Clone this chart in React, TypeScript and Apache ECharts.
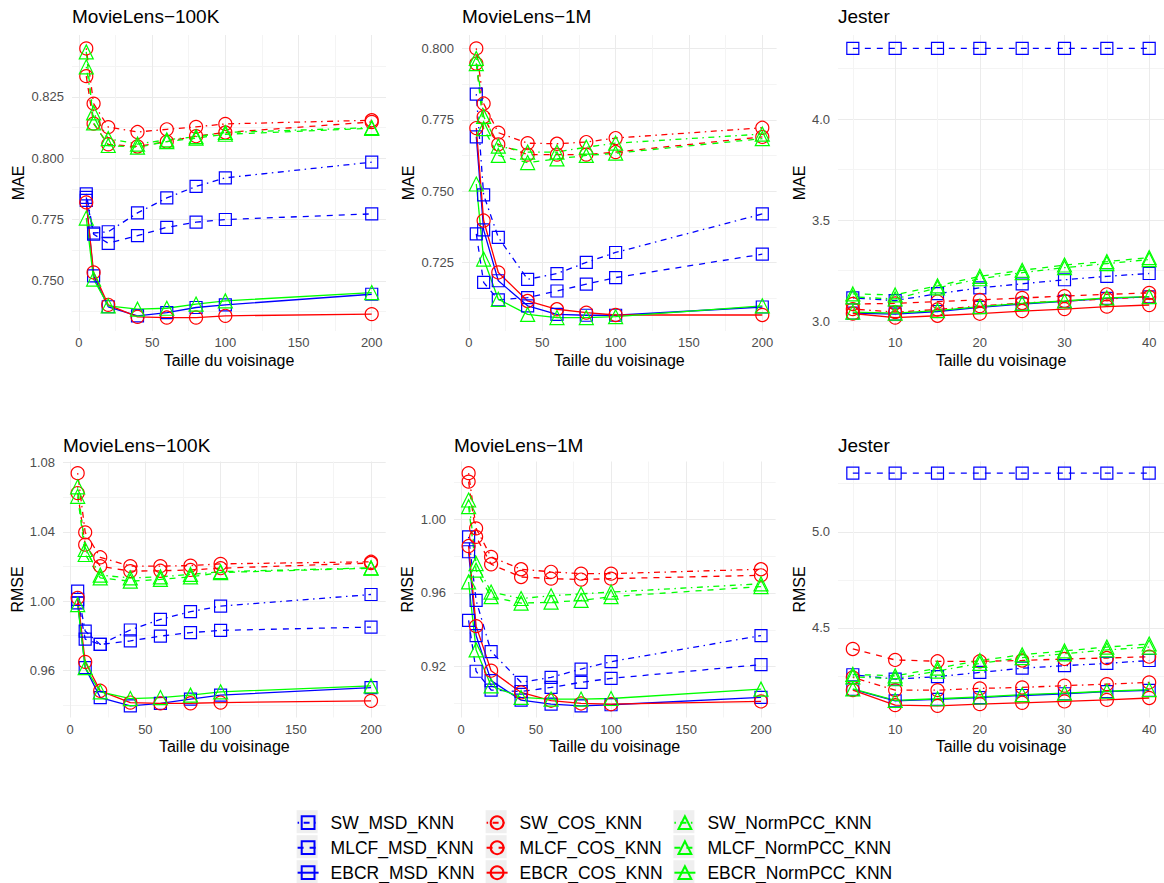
import React, { useEffect, useRef } from 'react';
import * as echarts from 'echarts';

// Methods, in legend order (column by column)
const METHODS = [
  'SW_MSD_KNN', 'MLCF_MSD_KNN', 'EBCR_MSD_KNN',
  'SW_COS_KNN', 'MLCF_COS_KNN', 'EBCR_COS_KNN',
  'SW_NormPCC_KNN', 'MLCF_NormPCC_KNN', 'EBCR_NormPCC_KNN',
];

// Neighbourhood sizes
const X_MOVIELENS = [5, 10, 20, 40, 60, 80, 100, 200];
const X_JESTER = [5, 10, 15, 20, 25, 30, 35, 40];

// Each row follows METHODS
const MAE_ML100K = [
  [0.7855, 0.7695, 0.7700, 0.7777, 0.7838, 0.7885, 0.7920, 0.7984],
  [0.7840, 0.7690, 0.7653, 0.7684, 0.7718, 0.7739, 0.7750, 0.7773],
  [0.7828, 0.7520, 0.7394, 0.7357, 0.7370, 0.7391, 0.7402, 0.7445],
  [0.8448, 0.8223, 0.8127, 0.8107, 0.8118, 0.8128, 0.8140, 0.8155],
  [0.8335, 0.8141, 0.8057, 0.8048, 0.8068, 0.8090, 0.8105, 0.8148],
  [0.7820, 0.7534, 0.7402, 0.7353, 0.7350, 0.7350, 0.7357, 0.7364],
  [0.8373, 0.8185, 0.8080, 0.8058, 0.8075, 0.8088, 0.8105, 0.8125],
  [0.8434, 0.8144, 0.8052, 0.8045, 0.8068, 0.8082, 0.8098, 0.8122],
  [0.7756, 0.7507, 0.7398, 0.7384, 0.7388, 0.7405, 0.7418, 0.7452],
];

const MAE_ML1M = [
  [0.7840, 0.7487, 0.7338, 0.7191, 0.7211, 0.7250, 0.7285, 0.7420],
  [0.7350, 0.7180, 0.7119, 0.7127, 0.7150, 0.7174, 0.7197, 0.7279],
  [0.7690, 0.7364, 0.7186, 0.7098, 0.7068, 0.7065, 0.7065, 0.7094],
  [0.8000, 0.7807, 0.7705, 0.7668, 0.7666, 0.7672, 0.7686, 0.7722],
  [0.7947, 0.7760, 0.7664, 0.7628, 0.7628, 0.7628, 0.7637, 0.7690],
  [0.7721, 0.7397, 0.7215, 0.7115, 0.7086, 0.7074, 0.7066, 0.7066],
  [0.7965, 0.7762, 0.7658, 0.7637, 0.7637, 0.7654, 0.7668, 0.7700],
  [0.7947, 0.7719, 0.7625, 0.7600, 0.7613, 0.7625, 0.7633, 0.7684],
  [0.7525, 0.7262, 0.7121, 0.7068, 0.7057, 0.7057, 0.7060, 0.7098],
];

const MAE_JESTER = [
  [3.115, 3.102, 3.136, 3.165, 3.185, 3.205, 3.222, 3.236],
  [4.350, 4.350, 4.350, 4.350, 4.350, 4.350, 4.350, 4.350],
  [3.040, 3.035, 3.048, 3.068, 3.085, 3.098, 3.113, 3.120],
  [3.060, 3.045, 3.058, 3.075, 3.090, 3.100, 3.110, 3.120],
  [3.085, 3.088, 3.097, 3.105, 3.115, 3.124, 3.133, 3.140],
  [3.038, 3.018, 3.027, 3.037, 3.050, 3.060, 3.072, 3.080],
  [3.120, 3.110, 3.165, 3.210, 3.240, 3.265, 3.285, 3.305],
  [3.135, 3.130, 3.175, 3.222, 3.252, 3.278, 3.295, 3.315],
  [3.045, 3.040, 3.052, 3.072, 3.088, 3.100, 3.115, 3.122],
];

const RMSE_ML100K = [
  [1.0058, 0.9827, 0.9750, 0.9833, 0.9894, 0.9939, 0.9971, 1.0038],
  [1.0010, 0.9780, 0.9750, 0.9770, 0.9798, 0.9818, 0.9831, 0.9850],
  [0.9990, 0.9616, 0.9443, 0.9395, 0.9409, 0.9434, 0.9457, 0.9500],
  [1.0739, 1.0397, 1.0253, 1.0202, 1.0202, 1.0205, 1.0215, 1.0227],
  [1.0624, 1.0326, 1.0202, 1.0173, 1.0175, 1.0180, 1.0190, 1.0220],
  [1.0019, 0.9649, 0.9482, 0.9414, 0.9409, 0.9410, 0.9414, 0.9424],
  [1.0660, 1.0298, 1.0150, 1.0134, 1.0140, 1.0154, 1.0170, 1.0192],
  [1.0605, 1.0269, 1.0134, 1.0115, 1.0125, 1.0140, 1.0165, 1.0190],
  [0.9980, 0.9616, 0.9476, 0.9437, 0.9443, 0.9457, 0.9476, 0.9510],
];

const RMSE_ML1M = [
  [0.9905, 0.9560, 0.9282, 0.9115, 0.9142, 0.9187, 0.9227, 0.9369],
  [0.9451, 0.9175, 0.9073, 0.9065, 0.9087, 0.9115, 0.9136, 0.9211],
  [0.9824, 0.9369, 0.9124, 0.9018, 0.8996, 0.8987, 0.8993, 0.9033],
  [1.0251, 0.9951, 0.9796, 0.9729, 0.9715, 0.9705, 0.9705, 0.9729],
  [1.0205, 0.9905, 0.9756, 0.9687, 0.9678, 0.9673, 0.9678, 0.9696],
  [0.9855, 0.9420, 0.9178, 0.9060, 0.9015, 0.9000, 0.8996, 0.9011],
  [1.0105, 0.9760, 0.9605, 0.9570, 0.9585, 0.9595, 0.9605, 0.9650],
  [1.0069, 0.9724, 0.9580, 0.9545, 0.9550, 0.9560, 0.9580, 0.9635],
  [0.9660, 0.9291, 0.9096, 0.9033, 0.9024, 0.9024, 0.9027, 0.9078],
];

const RMSE_JESTER = [
  [4.256, 4.233, 4.246, 4.268, 4.290, 4.303, 4.315, 4.330],
  [5.305, 5.305, 5.305, 5.305, 5.305, 5.305, 5.305, 5.305],
  [4.180, 4.120, 4.128, 4.137, 4.148, 4.157, 4.168, 4.175],
  [4.242, 4.176, 4.176, 4.185, 4.190, 4.199, 4.207, 4.216],
  [4.390, 4.333, 4.326, 4.326, 4.330, 4.338, 4.343, 4.350],
  [4.176, 4.098, 4.094, 4.103, 4.110, 4.117, 4.125, 4.135],
  [4.245, 4.235, 4.275, 4.315, 4.345, 4.365, 4.385, 4.400],
  [4.258, 4.250, 4.290, 4.330, 4.360, 4.380, 4.400, 4.416],
  [4.182, 4.123, 4.131, 4.140, 4.152, 4.160, 4.170, 4.178],
];

// Tick labels (major) and the minor grid positions between them
const X_TICKS_MOVIELENS = [0, 50, 100, 150, 200];
const X_MINOR_MOVIELENS = [25, 75, 125, 175];
const X_TICKS_JESTER = [10, 20, 30, 40];
const X_MINOR_JESTER = [5, 15, 25, 35];

const Y_TICKS_MAE_ML100K = [0.75, 0.775, 0.8, 0.825];
const Y_MINOR_MAE_ML100K = [0.7375, 0.7625, 0.7875, 0.8125, 0.8375];
const Y_TICKS_MAE_ML1M = [0.725, 0.75, 0.775, 0.8];
const Y_MINOR_MAE_ML1M = [0.7125, 0.7375, 0.7625, 0.7875];
const Y_TICKS_MAE_JESTER = [3.0, 3.5, 4.0];
const Y_MINOR_MAE_JESTER = [3.25, 3.75, 4.25];
const Y_TICKS_RMSE_ML100K = [0.96, 1.0, 1.04, 1.08];
const Y_MINOR_RMSE_ML100K = [0.94, 0.98, 1.02, 1.06];
const Y_TICKS_RMSE_ML1M = [0.92, 0.96, 1.0];
const Y_MINOR_RMSE_ML1M = [0.9, 0.94, 0.98, 1.02];
const Y_TICKS_RMSE_JESTER = [4.5, 5.0];
const Y_MINOR_RMSE_JESTER = [4.25, 4.75, 5.25];

const X_TITLE = 'Taille du voisinage';

const PANELS = [
  { title: 'MovieLens−100K', metric: 'MAE', xs: X_MOVIELENS, rows: MAE_ML100K, xTicks: X_TICKS_MOVIELENS, xMinor: X_MINOR_MOVIELENS, yTicks: Y_TICKS_MAE_ML100K, yMinor: Y_MINOR_MAE_ML100K, digits: 3 },
  { title: 'MovieLens−1M', metric: 'MAE', xs: X_MOVIELENS, rows: MAE_ML1M, xTicks: X_TICKS_MOVIELENS, xMinor: X_MINOR_MOVIELENS, yTicks: Y_TICKS_MAE_ML1M, yMinor: Y_MINOR_MAE_ML1M, digits: 3 },
  { title: 'Jester', metric: 'MAE', xs: X_JESTER, rows: MAE_JESTER, xTicks: X_TICKS_JESTER, xMinor: X_MINOR_JESTER, yTicks: Y_TICKS_MAE_JESTER, yMinor: Y_MINOR_MAE_JESTER, digits: 1 },
  { title: 'MovieLens−100K', metric: 'RMSE', xs: X_MOVIELENS, rows: RMSE_ML100K, xTicks: X_TICKS_MOVIELENS, xMinor: X_MINOR_MOVIELENS, yTicks: Y_TICKS_RMSE_ML100K, yMinor: Y_MINOR_RMSE_ML100K, digits: 2 },
  { title: 'MovieLens−1M', metric: 'RMSE', xs: X_MOVIELENS, rows: RMSE_ML1M, xTicks: X_TICKS_MOVIELENS, xMinor: X_MINOR_MOVIELENS, yTicks: Y_TICKS_RMSE_ML1M, yMinor: Y_MINOR_RMSE_ML1M, digits: 2 },
  { title: 'Jester', metric: 'RMSE', xs: X_JESTER, rows: RMSE_JESTER, xTicks: X_TICKS_JESTER, xMinor: X_MINOR_JESTER, yTicks: Y_TICKS_RMSE_JESTER, yMinor: Y_MINOR_RMSE_JESTER, digits: 1 },
];

// Panel boxes in pixels
const LAYOUT = [
  { left: 72, top: 35, width: 314, height: 296, yNameGap: 46 },
  { left: 462, top: 35, width: 314.6, height: 296, yNameGap: 46 },
  { left: 838, top: 35, width: 329, height: 296, yNameGap: 31 },
  { left: 63, top: 461.5, width: 322.7, height: 256, yNameGap: 38 },
  { left: 454, top: 461.5, width: 321.6, height: 256, yNameGap: 39 },
  { left: 838, top: 461.5, width: 329, height: 256, yNameGap: 31 },
];
const TITLE_TOPS = [5, 5, 5, 434, 434, 434];

// Legend columns and rows
const LEGEND_LEFTS = [296.6, 485.6, 673.4];
const LEGEND_ROWS = [821.7, 846.7, 871.7];
const KEY_W = 21;
const KEY_H = 23;
const ICON_H = 16;

const FONT = '"Liberation Sans", Arial, Helvetica, sans-serif';
const MAJOR_GRID = '#EBEBEB';
const MINOR_GRID = '#F4F4F4';

const SIM_STYLE: Record<string, { color: string; symbol: string; size: number }> = {
  MSD: { color: '#0000FF', symbol: 'rect', size: 12 },
  COS: { color: '#FF0000', symbol: 'circle', size: 13 },
  NormPCC: { color: '#00FF00', symbol: 'triangle', size: 14 },
};
const LINE_TYPE: Record<string, any> = {
  SW: [1.5, 4.5, 6, 4.5],
  MLCF: [6, 6],
  EBCR: 'solid',
};

// ggplot-style 5% expansion of the data range
function expand(values: number[]): [number, number] {
  const lo = Math.min(...values);
  const hi = Math.max(...values);
  const e = (hi - lo) * 0.05;
  return [lo - e, hi + e];
}

function gridSpec(major: number[], minor: number[], range: [number, number]) {
  const all = [...major.map((v) => ({ v, major: true })), ...minor.map((v) => ({ v, major: false }))]
    .filter((d) => d.v >= range[0] && d.v <= range[1])
    .sort((a, b) => a.v - b.v);
  return {
    values: all.map((d) => d.v),
    colors: all.map((d) => (d.major ? MAJOR_GRID : MINOR_GRID)),
  };
}

function buildOption() {
  const grids: any[] = [];
  const xAxes: any[] = [];
  const yAxes: any[] = [];
  const titles: any[] = [];
  const series: any[] = [];

  PANELS.forEach((p, i) => {
    const box = LAYOUT[i];
    grids.push({ left: box.left, top: box.top, width: box.width, height: box.height, containLabel: false });
    titles.push({
      text: p.title,
      left: box.left,
      top: TITLE_TOPS[i],
      padding: 0,
      textStyle: { fontFamily: FONT, fontSize: 19, fontWeight: 'normal', color: '#000', lineHeight: 22 },
    });

    const xRange = expand(p.xs);
    const yRange = expand(p.rows.flat());
    const xg = gridSpec(p.xTicks, p.xMinor, xRange);
    const yg = gridSpec(p.yTicks, p.yMinor, yRange);

    xAxes.push({
      type: 'value',
      gridIndex: i,
      min: xRange[0],
      max: xRange[1],
      name: X_TITLE,
      nameLocation: 'middle',
      nameGap: 21,
      nameTextStyle: { fontFamily: FONT, fontSize: 16, color: '#000' },
      axisLine: { show: false },
      axisTick: { show: false, customValues: xg.values },
      axisLabel: {
        customValues: p.xTicks,
        margin: 5,
        color: '#4D4D4D',
        fontFamily: FONT,
        fontSize: 13,
        formatter: (v: number) => String(Math.round(v)),
      },
      splitLine: { show: true, lineStyle: { color: xg.colors, width: 1 } },
    });
    yAxes.push({
      type: 'value',
      gridIndex: i,
      min: yRange[0],
      max: yRange[1],
      name: p.metric,
      nameLocation: 'middle',
      nameGap: box.yNameGap,
      nameTextStyle: { fontFamily: FONT, fontSize: 16, color: '#000' },
      axisLine: { show: false },
      axisTick: { show: false, customValues: yg.values },
      axisLabel: {
        customValues: p.yTicks,
        margin: 8,
        color: '#4D4D4D',
        fontFamily: FONT,
        fontSize: 13,
        formatter: (v: number) => v.toFixed(p.digits),
      },
      splitLine: { show: true, lineStyle: { color: yg.colors, width: 1 } },
    });

    METHODS.forEach((name, j) => {
      const [prefix, sim] = name.split('_');
      const st = SIM_STYLE[sim];
      series.push({
        type: 'line',
        name,
        xAxisIndex: i,
        yAxisIndex: i,
        data: p.xs.map((x, k) => [x, p.rows[j][k]]),
        symbol: st.symbol,
        symbolSize: st.size,
        showSymbol: true,
        showAllSymbol: true,
        lineStyle: { color: st.color, width: 1.3, type: LINE_TYPE[prefix] },
        itemStyle: { color: 'rgba(0,0,0,0)', borderColor: st.color, borderWidth: 1.2 },
        emphasis: { disabled: true },
        silent: true,
      });
    });
  });

  // one legend block per entry: three columns of three rows
  const legends: any[] = [];
  const keyBoxes: any[] = [];
  METHODS.forEach((name, idx) => {
    const col = Math.floor(idx / 3);
    const row = idx % 3;
    const left = LEGEND_LEFTS[col];
    const cy = LEGEND_ROWS[row];
    legends.push({
      orient: 'vertical',
      left,
      top: cy - ICON_H / 2,
      padding: 0,
      z: 10,
      itemWidth: KEY_W,
      itemHeight: ICON_H,
      selectedMode: false,
      data: [name],
      textStyle: { fontFamily: FONT, fontSize: 17.5, color: '#000', lineHeight: ICON_H, padding: [0, 0, 0, 7] },
    });
    // grey key background behind the legend symbol
    keyBoxes.push({
      type: 'rect',
      shape: { x: left, y: cy - KEY_H / 2, width: KEY_W, height: KEY_H },
      style: { fill: '#EFEFEF' },
      silent: true,
      z: 1,
    });
  });

  return {
    animation: false,
    backgroundColor: '#FFFFFF',
    textStyle: { fontFamily: FONT },
    title: titles,
    grid: grids,
    xAxis: xAxes,
    yAxis: yAxes,
    legend: legends,
    graphic: keyBoxes,
    series,
  };
}

export default function App() {
  const ref = useRef<HTMLDivElement>(null);
  useEffect(() => {
    if (!ref.current) return;
    const chart = echarts.init(ref.current, null, { renderer: 'svg' });
    chart.setOption(buildOption() as any);
    return () => chart.dispose();
  }, []);
  return (
    <div
      ref={ref}
      style={{ position: 'absolute', left: 0, top: 0, width: 1164, height: 883 }}
    />
  );
}
